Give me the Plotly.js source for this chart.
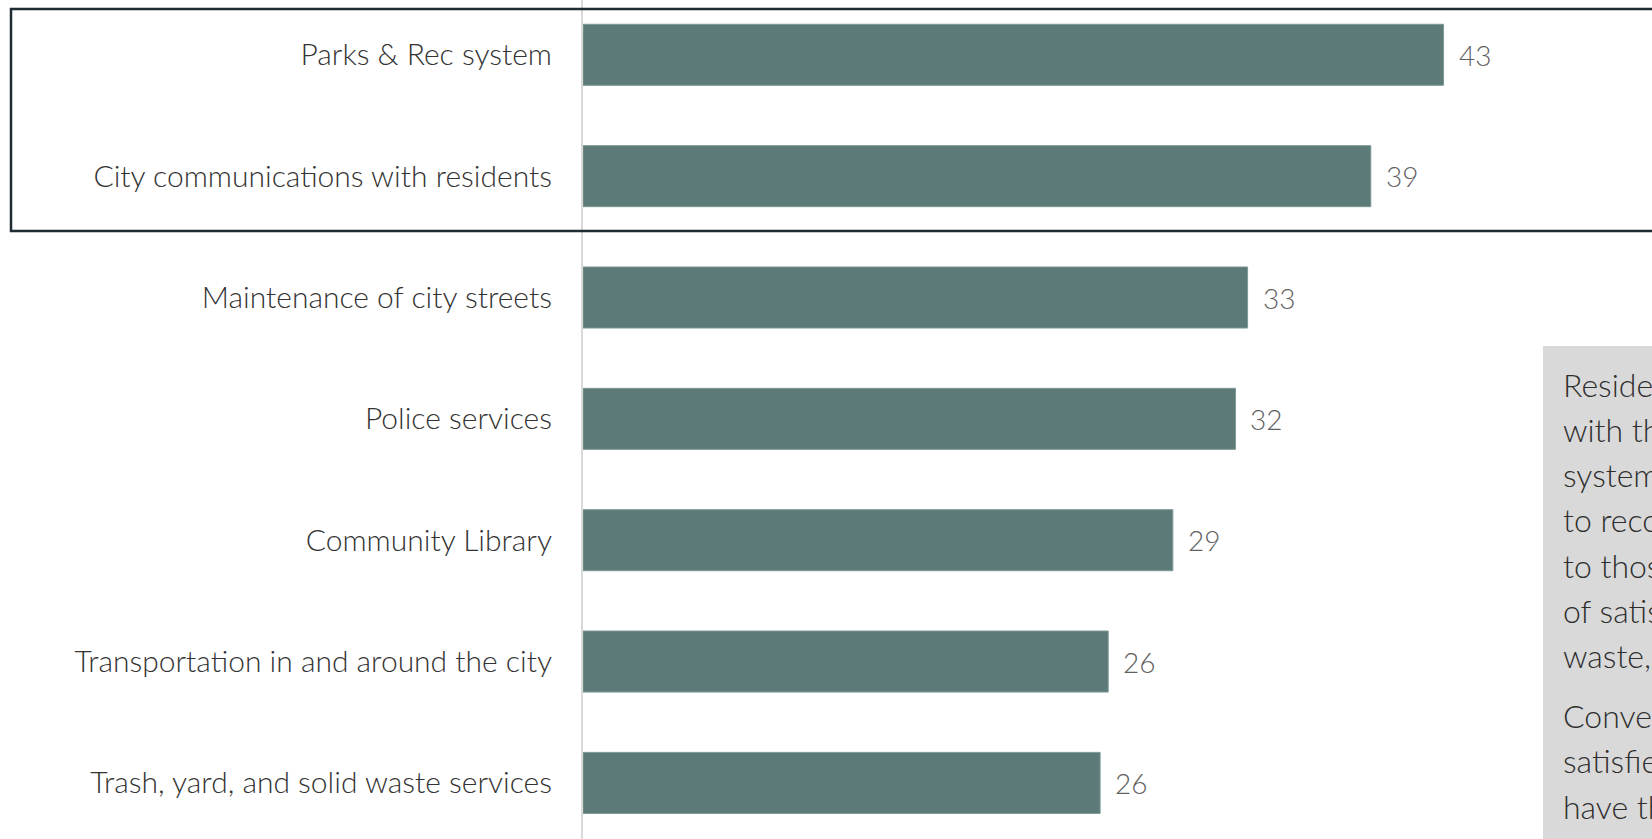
<!DOCTYPE html>
<html>
<head>
<meta charset="utf-8">
<script src="https://cdn.plot.ly/plotly-3.0.1.min.js"></script>
<style>
  html, body { margin: 0; padding: 0; background: #ffffff; overflow: hidden; }
  #chart { width: 1652px; height: 839px; }
</style>
</head>
<body>
<div id="chart"></div>
<script>
// ---- data ----
const categories = [
  "Parks & Rec system",
  "City communications with residents",
  "Maintenance of city streets",
  "Police services",
  "Community Library",
  "Transportation in and around the city",
  "Trash, yard, and solid waste services"
];
const values = [42.6, 39.0, 32.9, 32.3, 29.2, 26.0, 25.6];

const noteLines = [
  "Residents are most satisfied",
  "with the Parks & Rec",
  "system and are likely",
  "to recommend the city",
  "to those around them. Levels",
  "of satisfaction with trash, yard, and solid",
  "waste, however, are lower.",
  "Conversely, residents who are less",
  "satisfied with city services",
  "have the lowest levels",
  "of trust in the city"
];
const noteParagraphBreakAfter = 7; // lines in first paragraph

// ---- layout helpers ----
const W = 1652, H = 839;
const L = 583;               // plot left edge (value 0)
const plotW = W - L;
const pxPerUnit = 20.2;
const catTopPx = 54.8, catStep = 121.35;

const px2x = px => (px - L) / plotW;   // paper x
const px2y = py => 1 - py / H;         // paper y

const labelFont = "Lato, 'Open Sans', sans-serif";

const trace = {
  type: "bar",
  orientation: "h",
  y: categories,
  x: values,
  marker: { color: "#5c7b78", line: { color: "#7d9895", width: 1 } },
  hoverinfo: "skip"
};

const annotations = values.map((v, i) => ({
  x: v, y: categories[i], xref: "x", yref: "y",
  text: String(Math.round(v)),
  showarrow: false, xanchor: "left", yanchor: "middle",
  xshift: 13,
  font: { family: labelFont, size: 28, weight: 300, color: "#5f5f5f" }
}));

// note text lines (right box)
noteLines.forEach((t, i) => {
  const extra = i >= noteParagraphBreakAfter ? 15 : 0;
  const baseline = 395.7 + i * 45.2 + extra;
  annotations.push({
    x: px2x(1561), y: px2y(baseline - 11.5), xref: "paper", yref: "paper",
    text: t, showarrow: false, xanchor: "left", yanchor: "middle", align: "left",
    font: { family: labelFont, size: 32, weight: 300, color: "#2e2e2e" }
  });
});

const shapes = [
  // highlight frame around top two categories
  { type: "rect", xref: "paper", yref: "paper",
    x0: px2x(11), x1: px2x(1700), y0: px2y(231), y1: px2y(9),
    line: { color: "#1e2b31", width: 2.5 }, fillcolor: "rgba(0,0,0,0)", layer: "above" },
  // grey commentary box
  { type: "rect", xref: "paper", yref: "paper",
    x0: px2x(1543), x1: px2x(1700), y0: px2y(900), y1: px2y(346),
    line: { width: 0 }, fillcolor: "#d9d9d9", layer: "below" }
];

const rangeTop = -catTopPx / catStep;
const rangeBottom = rangeTop + H / catStep;

const layout = {
  width: W, height: H,
  margin: { l: L, r: 0, t: 0, b: 0, pad: 0 },
  paper_bgcolor: "#ffffff", plot_bgcolor: "#ffffff",
  showlegend: false,
  bargap: 0.497,
  xaxis: {
    range: [0, plotW / pxPerUnit],
    showgrid: false, zeroline: false, showticklabels: false, showline: false, ticks: ""
  },
  yaxis: {
    type: "category",
    range: [rangeBottom, rangeTop],
    showgrid: false, zeroline: false,
    showline: true, linecolor: "#d9d9d9", linewidth: 2,
    ticks: "", ticklabelstandoff: 23,
    tickfont: { family: labelFont, size: 30, weight: 300, color: "#333333" }
  },
  annotations: annotations,
  shapes: shapes
};

Plotly.newPlot("chart", [trace], layout, { displayModeBar: false, staticPlot: true });
</script>
</body>
</html>
